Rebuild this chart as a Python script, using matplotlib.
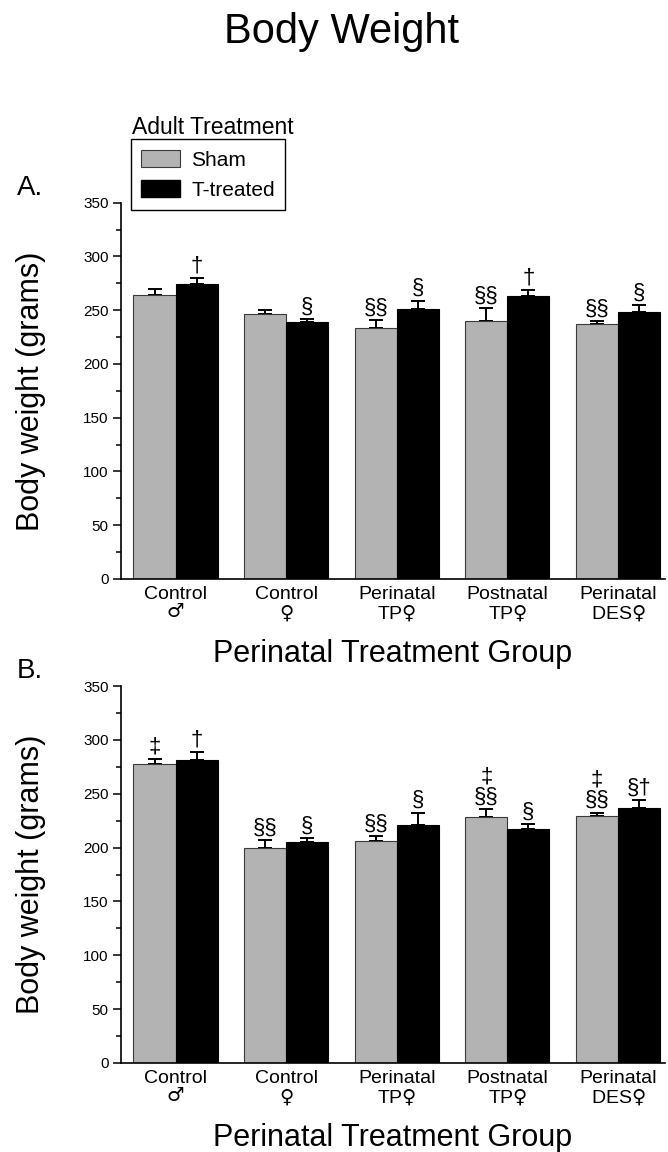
import matplotlib
matplotlib.use("Agg")
import matplotlib.pyplot as plt
from matplotlib.patches import Patch
from matplotlib.ticker import MultipleLocator
import numpy as np

plt.rcParams['font.family'] = ['Liberation Sans', 'DejaVu Sans']
plt.rcParams['mathtext.fontset'] = 'custom'
plt.rcParams['mathtext.rm'] = 'DejaVu Sans'
plt.rcParams['mathtext.it'] = 'DejaVu Sans'
plt.rcParams['mathtext.default'] = 'rm'

groups = ["Control\n$♂$", "Control\n$♀$", "Perinatal\nTP$♀$", "Postnatal\nTP$♀$", "Perinatal\nDES$♀$"]
series = ["Sham", "T-treated"]

# Panel A
a_sham = [264, 246.5, 233, 240, 237]
a_sham_err = [5.5, 4, 8, 12, 3]
a_t = [274, 239, 251, 263.5, 248]
a_t_err = [6, 3, 8, 5, 6.5]
a_sham_sig = ["", "", "§§", "§§", "§§"]
a_t_sig = ["†", "§", "§", "†", "§"]

# Panel B
b_sham = [277.5, 200, 206, 228, 229]
b_sham_err = [4.5, 7, 5, 7.5, 3.5]
b_t = [281.5, 205, 221, 217, 237]
b_t_err = [7, 4, 11.5, 5, 7]
b_sham_sig = ["‡", "§§", "§§", "‡\n§§", "‡\n§§"]
b_t_sig = ["†", "§", "§", "§", "§†"]

W, H = 668, 1152
fig = plt.figure(figsize=(W / 100, H / 100), dpi=100)

GRAY = "#b3b3b3"
EDGE = "#3a3a3a"
bw = 0.38

def px(x0, y0, x1, y1):
    return [x0 / W, 1 - y1 / H, (x1 - x0) / W, (y1 - y0) / H]

def panel(rect, sham, sham_err, tt, tt_err, sham_sig, t_sig):
    ax = fig.add_axes(rect)
    x = np.arange(len(groups))
    ax.bar(x - bw / 2, sham, bw, color=GRAY, edgecolor=EDGE, linewidth=0.8, zorder=2)
    ax.bar(x + bw / 2, tt, bw, color="black", edgecolor="black", linewidth=0.8, zorder=2)
    ax.errorbar(x - bw / 2, sham, yerr=[np.zeros(len(sham)), sham_err], fmt="none",
                ecolor="black", elinewidth=1.4, capsize=4.7, capthick=1.4, zorder=1)
    ax.errorbar(x + bw / 2, tt, yerr=[np.zeros(len(tt)), tt_err], fmt="none",
                ecolor="black", elinewidth=1.4, capsize=4.7, capthick=1.4, zorder=1)
    for xi, m, e, s in zip(x - bw / 2, sham, sham_err, sham_sig):
        if s:
            ax.annotate(s, (xi, m + e), xytext=(0, 1), textcoords="offset points",
                        ha="center", va="bottom", fontsize=16, linespacing=0.95)
    for xi, m, e, s in zip(x + bw / 2, tt, tt_err, t_sig):
        if s:
            ax.annotate(s, (xi, m + e), xytext=(0, 1), textcoords="offset points",
                        ha="center", va="bottom", fontsize=16, linespacing=0.95)
    ax.set_xlim(-0.493, 4.425)
    ax.set_ylim(0, 350)
    ax.yaxis.set_major_locator(MultipleLocator(50))
    ax.yaxis.set_minor_locator(MultipleLocator(25))
    ax.set_xticks(x)
    ax.set_xticklabels(groups, fontsize=14, linespacing=1.0)
    ax.tick_params(axis="x", length=0, pad=5)
    ax.tick_params(axis="y", which="major", length=6, width=1.1, labelsize=11, pad=3)
    ax.tick_params(axis="y", which="minor", length=3.5, width=1.1)
    for sp in ("top", "right"):
        ax.spines[sp].set_visible(False)
    for sp in ("left", "bottom"):
        ax.spines[sp].set_linewidth(1.2)
    return ax

axA = panel(px(121, 202.7, 665, 579), a_sham, a_sham_err, a_t, a_t_err, a_sham_sig, a_t_sig)
axB = panel(px(121, 686, 665, 1063), b_sham, b_sham_err, b_t, b_t_err, b_sham_sig, b_t_sig)

# Title
fig.text(341 / W, 1 - 43 / H, "Body Weight", fontsize=30, ha="center", va="baseline")

# Panel letters
fig.text(17 / W, 1 - 195 / H, "A.", fontsize=20, ha="left", va="baseline")
fig.text(17 / W, 1 - 678 / H, "B.", fontsize=20, ha="left", va="baseline")

# Axis labels
for base, (top, bot) in zip([662, 1146], [(202.7, 579), (686, 1063)]):
    fig.text(393 / W, 1 - base / H, "Perinatal Treatment Group", fontsize=22,
             ha="center", va="baseline")
    fig.text(31 / W, 1 - ((top + bot) / 2) / H, "Body weight (grams)", fontsize=22,
             ha="center", va="center", rotation=90)

# Legend
fig.text(132 / W, 1 - 134 / H, "Adult Treatment", fontsize=16.5, ha="left", va="baseline")
handles = [Patch(facecolor=GRAY, edgecolor=EDGE, linewidth=0.8),
           Patch(facecolor="black", edgecolor="black")]
leg = axA.legend(handles, series, loc="upper left",
                 bbox_to_anchor=(131 / W, 1 - 139.3 / H), bbox_transform=fig.transFigure,
                 fontsize=15, frameon=True, fancybox=False, edgecolor="black",
                 framealpha=1, handlelength=1.85, handleheight=0.9, handletextpad=0.55,
                 borderpad=0.5, labelspacing=0.5, borderaxespad=0)
leg.get_frame().set_linewidth(1.0)

fig.savefig("out.png", dpi=100)
